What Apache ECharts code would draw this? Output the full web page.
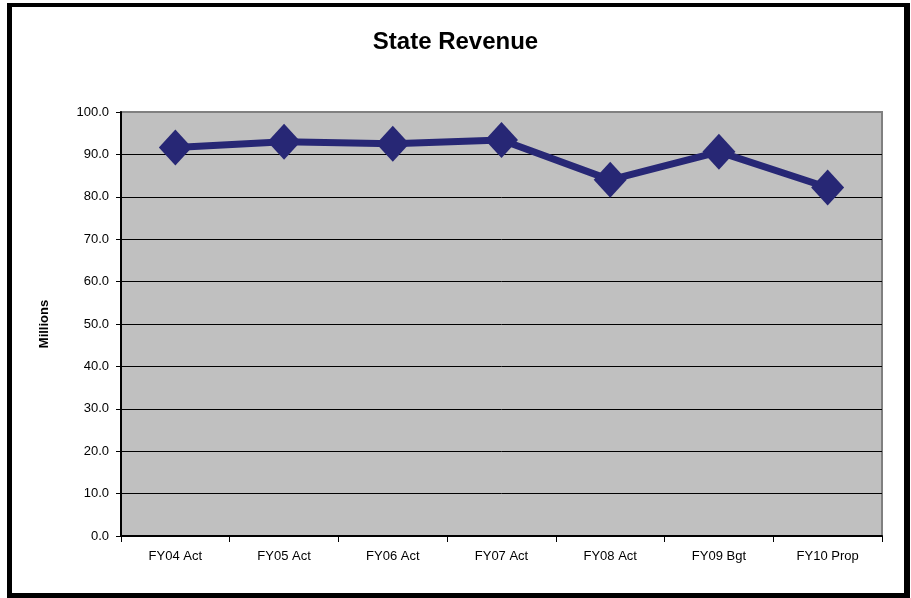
<!DOCTYPE html>
<html>
<head>
<meta charset="utf-8">
<script src="https://cdn.jsdelivr.net/npm/echarts@6/dist/echarts.min.js"></script>
<style>
  html, body { margin: 0; padding: 0; background: #fff; overflow: hidden; }
  #frame {
    position: absolute; left: 7px; top: 3px; width: 903px; height: 595px;
    border: 4px solid #000; border-left-width: 5px; border-right-width: 6px; border-bottom-width: 5px;
    box-sizing: border-box;
  }
  #chart { position: absolute; left: 0; top: 0; width: 911px; height: 598px; }
</style>
</head>
<body>
<div id="frame"></div>
<div id="chart"></div>
<script>
const categories = ['FY04 Act', 'FY05 Act', 'FY06 Act', 'FY07 Act', 'FY08 Act', 'FY09 Bgt', 'FY10 Prop']
const revenue = [91.6, 93.0, 92.5, 93.4, 84.0, 90.6, 82.2]

const chart = echarts.init(document.getElementById('chart'))
const font = 'Liberation Sans, Arial, sans-serif'

// gridlines black, top edge of the plot grey
const gridColors = ['#000', '#000', '#000', '#000', '#000', '#000', '#000', '#000', '#000', '#000', '#808080']

const options = {
    animation: false,
    textStyle: { fontFamily: font },
    title: {
        text: 'State Revenue',
        left: 'center',
        top: 25,
        textStyle: { fontSize: 24, fontWeight: 'bold', color: '#000', fontFamily: font }
    },
    grid: {
        left: 121, right: 29, top: 112, bottom: 62,
        show: true,
        backgroundColor: '#C0C0C0',
        borderColor: '#808080',
        borderWidth: 2
    },
    xAxis: {
        type: 'category',
        data: categories,
        boundaryGap: true,
        axisLine: { lineStyle: { color: '#000', width: 2 } },
        axisTick: { show: true, length: 6, lineStyle: { color: '#000' } },
        axisLabel: { color: '#000', fontSize: 13, margin: 14, fontFamily: font }
    },
    yAxis: {
        type: 'value',
        min: 0, max: 100, interval: 10,
        name: 'Millions',
        nameLocation: 'middle',
        nameGap: 70,
        nameTextStyle: { fontWeight: 'bold', fontSize: 13, color: '#000', fontFamily: font },
        axisLine: { show: true, lineStyle: { color: '#000', width: 2 } },
        axisTick: { show: true, length: 5, lineStyle: { color: '#000' } },
        axisLabel: {
            color: '#000', fontSize: 13, margin: 12, fontFamily: font,
            formatter: v => v.toFixed(1)
        },
        splitLine: { show: true, lineStyle: { color: gridColors, width: 1 } }
    },
    series: [
        {
            name: 'State Revenue',
            type: 'line',
            data: revenue,
            symbol: 'diamond',
            symbolSize: [33, 36],
            lineStyle: { color: '#272775', width: 7 },
            itemStyle: { color: '#272775' },
            z: 5
        }
    ]
}
chart.setOption(options, true)
</script>
</body>
</html>
